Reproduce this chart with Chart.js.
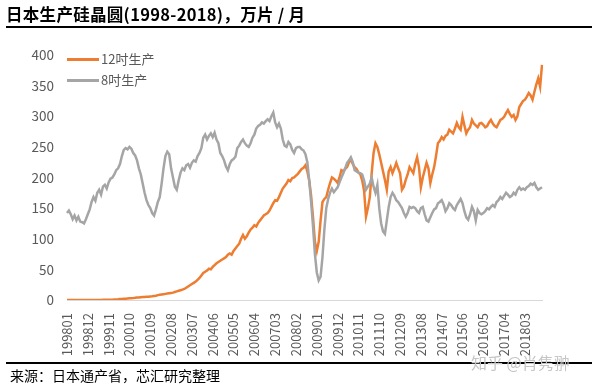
<!DOCTYPE html>
<html><head><meta charset="utf-8">
<script src="https://cdn.jsdelivr.net/npm/chart.js@4.4.1/dist/chart.umd.min.js"></script>
<style>
html,body{margin:0;padding:0;background:#fff;}
body{width:597px;height:390px;overflow:hidden;position:relative;font-family:"Noto Sans CJK SC","Noto Sans",sans-serif;}
#c{position:absolute;left:0;top:0;}
#title{position:absolute;left:6px;top:2px;font-size:16.5px;font-weight:bold;color:#000;white-space:nowrap;letter-spacing:0.3px;}
#tline{position:absolute;left:6px;top:26px;width:586px;height:2px;background:#000;}
#fline{position:absolute;left:6px;top:362px;width:586px;height:2px;background:#000;}
#foot{position:absolute;left:10px;top:365px;font-size:14px;color:#000;white-space:nowrap;}
#zh{position:absolute;left:471px;top:350px;font-size:16px;color:#c6c6c6;white-space:nowrap;}
.lg{position:absolute;left:67px;width:32px;height:3px;}
.lt{position:absolute;left:101px;font-size:13px;color:#595959;white-space:nowrap;line-height:16px;}
</style></head>
<body>
<canvas id="c" width="597" height="390"></canvas>
<div id="title">日本生产硅晶圆(1998-2018)，万片 / 月</div>
<div id="tline"></div>
<div class="lg" style="top:58px;background:#ED7D31"></div>
<div class="lt" style="top:51px">12吋生产</div>
<div class="lg" style="top:79px;background:#A5A5A5"></div>
<div class="lt" style="top:72px">8吋生产</div>
<div id="fline"></div>
<div id="foot">来源：日本通产省，芯汇研究整理</div>
<div id="zh">知乎 @肖隽翀</div>
<script>
// categories: monthly, 199801 .. 201812
const startYear = 1998, endYear = 2018;
const months = [];
for (let y = startYear; y <= endYear; y++) for (let m = 1; m <= 12; m++) months.push(String(y) + (m < 10 ? '0' : '') + m);

const tickLabels = ['199801','199812','199911','200010','200109','200208','200307','200406','200505','200604','200703','200802','200901','200912','201011','201110','201209','201308','201407','201506','201605','201704','201803'];

// 12吋生产 (万片/月)
const wafer12 = [
  0,0,0,0,0,0,0,0,0,0,0,0,
  0,0,0,0,0,0,0.2,0.3,0.3,0.4,0.5,0.5,
  0.6,0.8,1,1.2,1.5,1.8,2,2.2,2.5,2.8,3,3.2,
  3.5,4,4.2,4.5,4.8,5,5.3,5.5,5.8,6,6.5,7,
  8,8.5,9,9.5,10,10.5,11,11.5,12,13,14,15,
  16,17,18,20,22,24,26,28,30,33,36,40,
  44,46,48,51,50,54,57,60,62,64,66,68,
  70,74,76,74,80,84,88,92,100,106,100,104,
  110,115,118,122,120,126,130,134,138,140,142,146,
  152,158,163,162,168,175,182,186,190,196,194,199,
  200,203,206,210,214,216,220,210,195,170,135,95,
  80,95,130,160,165,168,180,191,200,198,195,191,
  200,212,210,214,217,225,229,222,217,214,208,205,
  195,178,136,150,168,207,240,256,250,238,224,210,
  196,180,210,217,207,215,224,215,207,180,185,196,
  205,217,212,207,222,233,217,184,200,212,224,215,
  191,205,217,235,256,260,266,262,268,270,278,275,
  272,280,289,282,278,299,285,272,278,282,294,288,
  285,282,288,289,286,282,284,290,294,288,284,282,
  288,294,296,299,305,310,304,299,302,294,300,315,
  320,325,327,332,338,334,327,340,352,362,348,384
];

// 8吋生产 (万片/月)
const wafer8 = [
  142,146,140,132,138,130,136,128,127,125,132,140,
  148,160,168,162,175,180,172,185,188,182,192,198,
  200,205,212,215,222,235,245,248,246,250,247,240,
  236,228,215,205,190,175,163,155,150,142,138,148,
  160,168,190,215,235,242,238,215,200,185,180,195,
  208,215,212,220,222,216,224,228,226,235,240,248,
  265,270,262,268,272,266,273,262,256,240,235,228,
  218,212,222,228,230,234,248,252,258,262,256,252,
  250,256,265,270,280,284,286,290,288,292,295,292,
  300,306,290,282,288,280,262,252,250,258,254,245,
  240,248,250,250,246,244,238,225,195,160,120,75,
  45,32,38,70,115,150,165,175,182,176,180,184,
  192,200,207,215,224,228,233,225,212,210,208,207,
  205,195,180,185,190,200,185,175,188,150,125,112,
  108,130,152,168,175,170,163,160,155,150,142,136,
  142,152,150,152,150,145,142,150,152,140,130,128,
  135,142,148,150,158,160,163,156,145,150,158,155,
  150,147,155,160,165,158,145,135,131,140,152,145,
  130,147,142,140,142,145,150,148,152,155,152,160,
  163,168,165,170,175,172,168,170,175,172,180,184,
  180,182,180,184,186,190,188,191,184,180,182,184
];

const yTicks = [0,50,100,150,200,250,300,350,400];

Chart.defaults.font.family = '"Noto Sans CJK SC","Noto Sans",sans-serif';
Chart.defaults.color = '#595959';

new Chart(document.getElementById('c'), {
  type: 'line',
  data: {
    labels: months,
    datasets: [
      { label: '8吋生产', data: wafer8, borderColor: '#A5A5A5', borderWidth: 2.5, pointRadius: 0, tension: 0, fill: false },
      { label: '12吋生产', data: wafer12, borderColor: '#ED7D31', borderWidth: 2.5, pointRadius: 0, tension: 0, fill: false }
    ]
  },
  options: {
    responsive: false,
    animation: false,
    layout: { padding: { top: 55, right: 55, bottom: 0, left: 0 } },
    plugins: { legend: { display: false }, tooltip: { enabled: false }, title: { display: false } },
    scales: {
      x: {
        type: 'category',
        offset: false,
        grid: { display: false, drawTicks: false, tickLength: 0 },
        border: { display: true, color: '#D9D9D9', width: 1 },
        ticks: {
          autoSkip: false, minRotation: 90, maxRotation: 90, padding: 13,
          font: { size: 13 }, color: '#595959',
          callback: function(v, i) { return tickLabels.includes(months[i]) ? months[i] : ''; }
        },
        afterFit: function(s) { s.height = 90; }
      },
      y: {
        min: 0, max: 400,
        grid: { display: false, drawTicks: false, tickLength: 0 },
        border: { display: false },
        afterBuildTicks: function(s) { s.ticks = yTicks.map(v => ({ value: v })); },
        ticks: { padding: 13, font: { size: 13.5 }, color: '#595959' },
        afterFit: function(s) { s.width = 67; }
      }
    }
  }
});
</script>
</body></html>
